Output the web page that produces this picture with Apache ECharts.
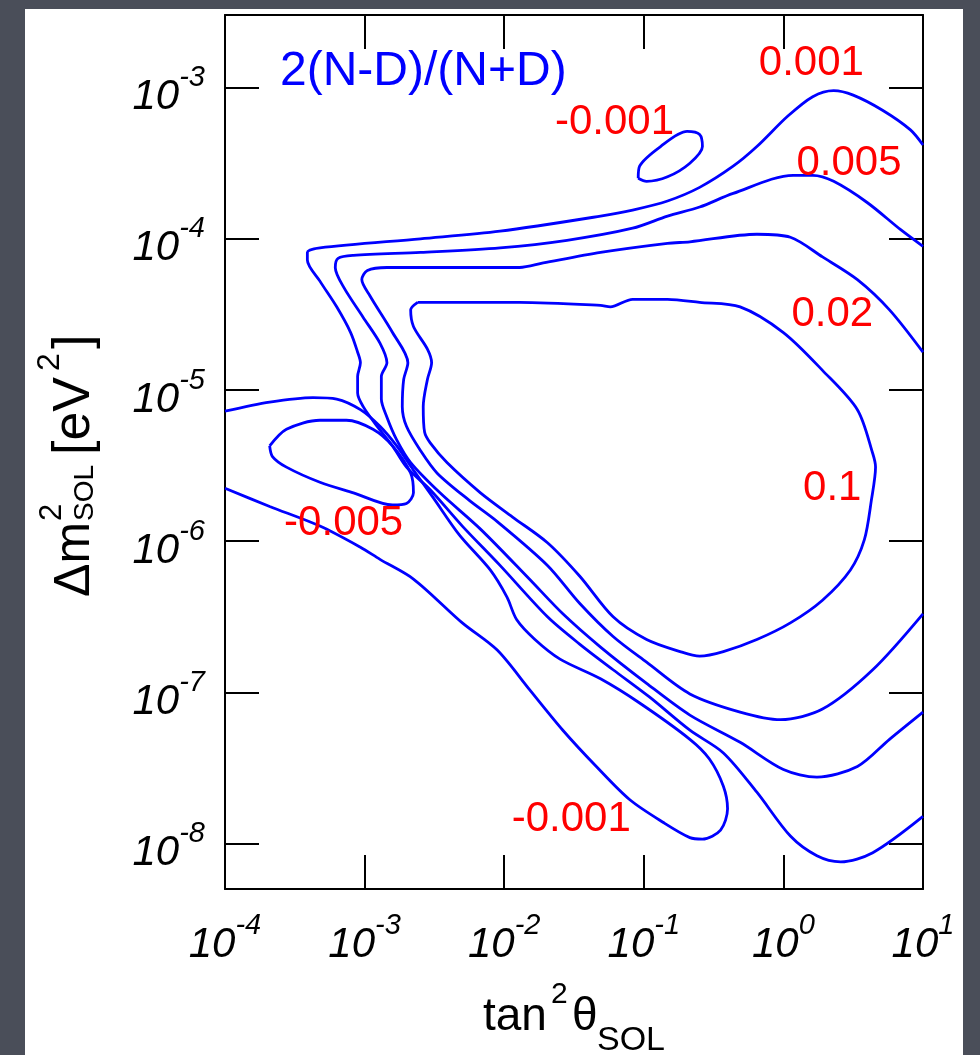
<!DOCTYPE html>
<html>
<head>
<meta charset="utf-8">
<script src="https://cdn.jsdelivr.net/npm/echarts@6/dist/echarts.min.js"></script>
<style>
  html, body { margin: 0; padding: 0; width: 980px; height: 1055px; overflow: hidden; background: #4a4e59; }
  #chart { position: absolute; left: 25px; top: 9px; width: 938px; height: 1046px; background: #ffffff; }
</style>
</head>
<body>
<div id="chart"></div>
<script>
// Axes are drawn in decades: x = log10(tan^2 theta_SOL), y = log10(dm^2_SOL / eV^2)
const xRange = [-4, 1];
const yRange = [-8.3, -2.52];
const xTicks = [-4, -3, -2, -1, 0, 1];
const yTicks = [-8, -7, -6, -5, -4, -3];

// Contours of 2(N-D)/(N+D), as [log10 tan^2, log10 dm^2] points
const contourPos001 = [
  [1.00,-3.38],[0.91,-3.28],[0.71,-3.15],[0.50,-3.05],[0.36,-3.02],[0.21,-3.06],[0.03,-3.19],
  [-0.19,-3.39],[-0.36,-3.52],[-0.60,-3.66],[-0.83,-3.75],[-1.08,-3.81],[-1.31,-3.85],
  [-2.03,-3.95],[-2.60,-4.00],[-3.32,-4.06],[-3.41,-4.09],[-3.41,-4.14],[-3.32,-4.28],
  [-3.20,-4.45],[-3.10,-4.62],[-3.05,-4.75],[-3.03,-4.82],[-3.05,-4.91],[-3.05,-5.02],
  [-3.01,-5.11],[-2.91,-5.24],[-2.80,-5.37],[-2.70,-5.51],[-2.53,-5.66],[-2.30,-5.90],
  [-2.03,-6.16],[-1.69,-6.50],[-1.46,-6.68],[-1.22,-6.85],[-0.96,-7.03],[-0.67,-7.25],
  [-0.43,-7.40],[-0.19,-7.66],[0.05,-7.95],[0.24,-8.08],[0.41,-8.12],[0.64,-8.06],[1.00,-7.82]
];
const contourPos005 = [
  [1.00,-4.05],[0.84,-3.94],[0.60,-3.76],[0.36,-3.62],[0.21,-3.58],[0.07,-3.58],[-0.36,-3.70],
  [-0.60,-3.79],[-0.83,-3.85],[-1.08,-3.93],[-1.55,-4.01],[-2.03,-4.06],[-2.60,-4.09],
  [-3.08,-4.11],[-3.19,-4.13],[-3.21,-4.19],[-3.15,-4.32],[-3.01,-4.52],[-2.89,-4.69],
  [-2.84,-4.82],[-2.88,-4.91],[-2.88,-5.06],[-2.84,-5.18],[-2.77,-5.33],[-2.67,-5.48],
  [-2.46,-5.68],[-2.17,-5.92],[-1.82,-6.25],[-1.58,-6.48],[-1.31,-6.70],[-0.98,-6.94],
  [-0.67,-7.15],[-0.31,-7.33],[0.00,-7.51],[0.24,-7.56],[0.53,-7.49],[0.76,-7.31],[1.00,-7.13]
];
const contourPos02 = [
  [1.00,-4.75],[0.76,-4.47],[0.53,-4.27],[0.28,-4.12],[0.05,-3.99],[-0.19,-3.97],[-0.67,-4.02],
  [-0.83,-4.03],[-1.31,-4.09],[-1.72,-4.16],[-1.89,-4.19],[-2.37,-4.19],[-2.84,-4.19],
  [-2.98,-4.21],[-3.02,-4.27],[-2.96,-4.38],[-2.80,-4.62],[-2.69,-4.82],[-2.72,-4.93],
  [-2.73,-5.11],[-2.70,-5.24],[-2.60,-5.40],[-2.48,-5.55],[-2.25,-5.73],[-2.05,-5.87],
  [-1.69,-6.16],[-1.46,-6.41],[-1.22,-6.63],[-0.98,-6.80],[-0.67,-7.01],[-0.31,-7.13],
  [-0.02,-7.18],[0.28,-7.11],[0.64,-6.85],[1.00,-6.48]
];
const contourPos1 = [
  [-2.62,-4.42],[-2.37,-4.42],[-1.89,-4.42],[-1.31,-4.44],[-1.24,-4.45],[-1.08,-4.40],
  [-0.83,-4.40],[-0.60,-4.42],[-0.31,-4.45],[0.00,-4.62],[0.28,-4.87],[0.53,-5.13],
  [0.64,-5.42],[0.66,-5.51],[0.63,-5.73],[0.58,-5.99],[0.48,-6.19],[0.28,-6.39],[0.05,-6.54],
  [-0.19,-6.65],[-0.43,-6.73],[-0.60,-6.76],[-0.74,-6.73],[-0.98,-6.65],[-1.22,-6.50],
  [-1.46,-6.23],[-1.69,-6.01],[-1.94,-5.84],[-2.17,-5.68],[-2.41,-5.48],[-2.53,-5.35],
  [-2.57,-5.28],[-2.58,-5.11],[-2.55,-4.93],[-2.52,-4.82],[-2.55,-4.73],[-2.65,-4.58],
  [-2.67,-4.47],[-2.62,-4.42]
];
const contourNeg001Band = [
  [-4.00,-5.14],[-3.68,-5.08],[-3.37,-5.05],[-3.20,-5.06],[-3.03,-5.13],[-2.89,-5.24],
  [-2.77,-5.37],[-2.65,-5.53],[-2.51,-5.71],[-2.32,-5.96],[-2.10,-6.19],[-1.98,-6.37],
  [-1.91,-6.52],[-1.78,-6.65],[-1.60,-6.78],[-1.31,-6.91],[-1.03,-7.07],[-0.67,-7.31],
  [-0.53,-7.44],[-0.43,-7.62],[-0.40,-7.77],[-0.45,-7.91],[-0.58,-7.97],[-0.67,-7.96],
  [-0.86,-7.86],[-1.10,-7.71],[-1.34,-7.49],[-1.58,-7.25],[-1.82,-6.98],[-2.05,-6.72],
  [-2.30,-6.54],[-2.65,-6.25],[-2.89,-6.12],[-3.03,-6.04],[-3.32,-5.90],[-3.68,-5.77],
  [-4.00,-5.65]
];
const contourNeg001Island = [
  [-1.04,-3.60],[-1.03,-3.52],[-0.88,-3.39],[-0.69,-3.29],[-0.60,-3.31],[-0.58,-3.39],
  [-0.67,-3.50],[-0.83,-3.59],[-0.98,-3.62],[-1.04,-3.60]
];
const contourNeg005Island = [
  [-3.68,-5.37],[-3.56,-5.26],[-3.32,-5.20],[-3.13,-5.20],[-2.94,-5.26],[-2.80,-5.37],
  [-2.67,-5.55],[-2.65,-5.68],[-2.70,-5.75],[-2.80,-5.76],[-3.08,-5.68],[-3.32,-5.61],
  [-3.56,-5.51],[-3.66,-5.44],[-3.68,-5.37]
];

// Level values written next to the contours, and where they sit
const levelLabelText = ['0.001', '-0.001', '0.005', '0.02', '0.1', '-0.005', '-0.001'];
const levelLabelAt = [
  [0.20,-2.84],[-1.21,-3.23],[0.47,-3.50],[0.35,-4.50],[0.35,-5.65],[-3.15,-5.88],[-1.52,-7.84]
];

const FONT = "'Liberation Sans', Arial, Helvetica, sans-serif";
const BLUE = '#0000ff';
const RED = '#ff0000';

function powerLabel(v) {
  const n = Math.round(v);
  if (Math.abs(v - n) > 1e-6) return '';
  return '{b|10}{s|' + n + '}';
}
// "10" sits low in the line box, the exponent is lifted to the top
const powerRich = {
  b: { fontSize: 42, fontStyle: 'italic', fontFamily: FONT, color: '#000',
       height: 42, lineHeight: 42, verticalAlign: 'bottom' },
  s: { fontSize: 29, fontStyle: 'italic', fontFamily: FONT, color: '#000',
       height: 29, lineHeight: 62, verticalAlign: 'top', padding: [7, 0, 26, 0] }
};
const frameLine = { show: true, onZero: false, lineStyle: { color: '#000', width: 2 } };
const frameTick = { show: true, inside: true, length: 34, lineStyle: { color: '#000', width: 2 } };

const contourSets = [contourPos001, contourPos005, contourPos02, contourPos1,
  contourNeg001Band, contourNeg001Island, contourNeg005Island];

function plainText(x, y, text, size, extra) {
  return Object.assign({
    type: 'text', x: x, y: y, silent: true,
    style: { text: text, fontFamily: FONT, fontSize: size, fill: '#000',
             align: 'left', verticalAlign: 'middle', textAlign: 'left', textVerticalAlign: 'middle' }
  }, extra || {});
}
const UP = { rotation: Math.PI / 2 };

const chart = echarts.init(document.getElementById('chart'), null, { renderer: 'canvas' });

chart.setOption({
  animation: false,
  backgroundColor: '#ffffff',
  grid: { left: 200, top: 6, width: 698, height: 874, show: false },
  xAxis: [
    {
      type: 'value', min: xRange[0], max: xRange[1], interval: 1, position: 'bottom',
      axisLine: frameLine, axisTick: frameTick, splitLine: { show: false },
      axisLabel: { show: true, margin: 15, formatter: powerLabel, rich: powerRich, showMinLabel: true, showMaxLabel: true }
    },
    {
      type: 'value', min: xRange[0], max: xRange[1], interval: 1, position: 'top',
      axisLine: frameLine, axisTick: frameTick, splitLine: { show: false }, axisLabel: { show: false }
    }
  ],
  yAxis: [
    {
      type: 'value', min: yRange[0], max: yRange[1], position: 'left',
      axisLine: frameLine, axisTick: Object.assign({ customValues: yTicks }, frameTick), splitLine: { show: false },
      axisLabel: { show: true, margin: 20, customValues: yTicks, formatter: powerLabel, rich: powerRich }
    },
    {
      type: 'value', min: yRange[0], max: yRange[1], position: 'right',
      axisLine: frameLine, axisTick: Object.assign({ customValues: yTicks }, frameTick), splitLine: { show: false },
      axisLabel: { show: false }
    }
  ],
  series: contourSets.map(function (pts) {
    return {
      type: 'line', xAxisIndex: 0, yAxisIndex: 0, data: pts,
      smooth: 0.3, symbol: 'none', silent: true, clip: true,
      lineStyle: { color: BLUE, width: 2.8 }
    };
  }).concat([{
    type: 'scatter', xAxisIndex: 0, yAxisIndex: 0, silent: true, symbolSize: 1,
    itemStyle: { color: 'rgba(0,0,0,0)', opacity: 1 },
    data: levelLabelText.map(function (t, i) { return { name: t, value: levelLabelAt[i] }; }),
    label: {
      show: true, position: 'inside', formatter: '{b}',
      fontFamily: FONT, fontSize: 42, color: RED, opacity: 1
    },
    z: 5
  }]),
  graphic: [
    // plot title
    { type: 'text', x: 255, y: 63, silent: true,
      style: { text: '2(N-D)/(N+D)', fontFamily: FONT, fontSize: 48, fill: BLUE,
               align: 'left', verticalAlign: 'middle', textAlign: 'left', textVerticalAlign: 'middle' } },
    // x axis title: tan^2 theta_SOL
    plainText(458, 1008, 'tan', 46),
    plainText(526, 986, '2', 30),
    plainText(547, 1008, 'θ', 46),
    plainText(572, 1032, 'SOL', 34),
    // y axis title: dm^2_SOL [eV^2], reading bottom to top
    plainText(50, 588, 'Δm', 50, UP),
    plainText(27, 512, '2', 31, UP),
    plainText(60, 512, 'SOL', 28, UP),
    plainText(50, 446, '[eV', 52, UP),
    plainText(25, 362, '2', 32, UP),
    plainText(50, 340, ']', 52, UP)
  ]
});
</script>
</body>
</html>
